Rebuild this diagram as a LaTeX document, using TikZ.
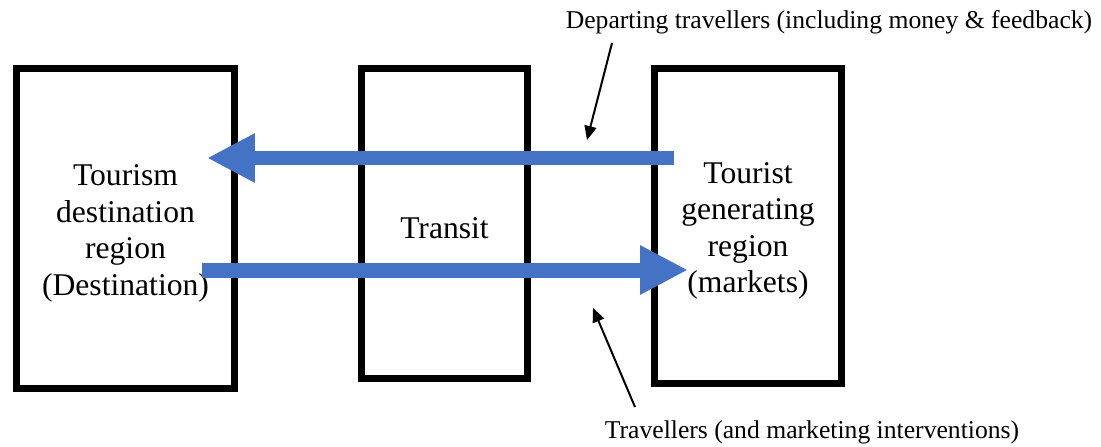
\documentclass[tikz,border=0pt]{standalone}
\usepackage{fontspec}
\setmainfont{Liberation Serif}
\usetikzlibrary{arrows.meta}
\definecolor{flowblue}{HTML}{4472C4}
\begin{document}
\begin{tikzpicture}[x=0.02cm,y=-0.02cm,
  region/.style={draw=black, line width=0.14cm, fill=white, inner sep=0pt},
  regiontext/.style={align=center, inner sep=0pt, yshift=-0.1cm,
    font=\fontsize{18}{20.8}\selectfont},
  flow/.style={draw=flowblue, line width=0.3cm,
    -{Triangle[length=0.96cm,width=0.92cm]}},
  pointer/.style={draw=black, line width=0.04cm,
    -{Triangle[length=0.28cm,width=0.24cm]}},
  caption/.style={font=\fontsize{14.6}{17}\selectfont, inner sep=0pt}]
\useasboundingbox (0,0) rectangle (1101,446);

% the three regions of the tourism system
\node[region, minimum width=4.38cm, minimum height=6.42cm,
  label={[regiontext]center:{Tourism\\destination\\region\\(Destination)}}]
  (dest) at (125.5,228.5) {};
\node[region, minimum width=3.34cm, minimum height=6.22cm,
  label={[regiontext]center:Transit}]
  (transit) at (444.5,223.5) {};
\node[region, minimum width=3.76cm, minimum height=6.32cm,
  label={[regiontext]center:{Tourist\\generating\\region\\(markets)}}]
  (gen) at (748,226) {};

% ends of the two flows
\coordinate (depstart) at (674,158);
\coordinate (depend) at (207,158);
\coordinate (retstart) at (202,270);
\coordinate (retend) at (688,270);

\draw[flow] (depstart) -- (depend);
\draw[flow] (retstart) -- (retend);

% captions and their pointers
\node[caption] (deplabel) at (829,22)
  {Departing travellers (including money \& feedback)};
\node[caption] (retlabel) at (812,432)
  {Travellers (and marketing interventions)};

\coordinate (deptail) at (612,43);
\coordinate (deptip) at (587,140);
\coordinate (rettail) at (635,407);
\coordinate (rettip) at (593,308);

\draw[pointer] (deptail) -- (deptip);
\draw[pointer] (rettail) -- (rettip);
\end{tikzpicture}
\end{document}
